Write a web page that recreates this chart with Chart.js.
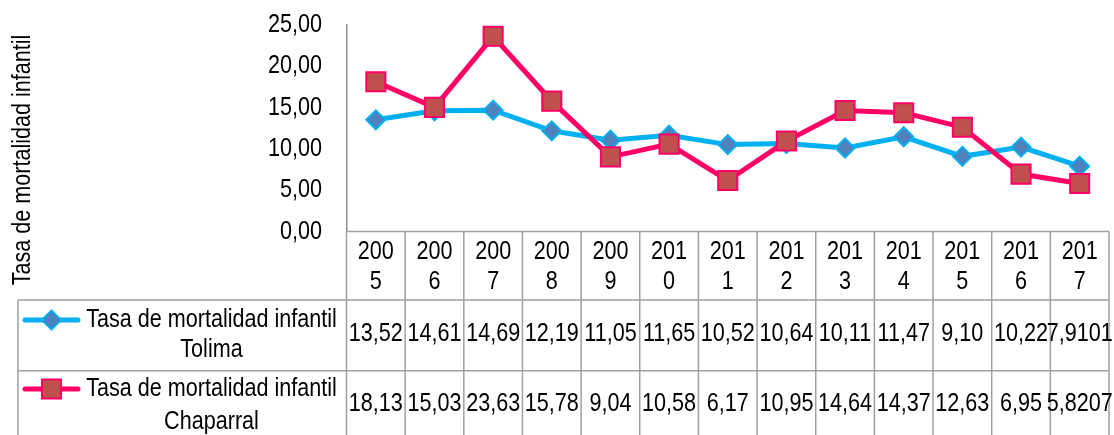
<!DOCTYPE html>
<html>
<head>
<meta charset="utf-8">
<script src="https://cdn.jsdelivr.net/npm/chart.js@4.4.1/dist/chart.umd.min.js"></script>
<style>
html,body{margin:0;padding:0;background:#fff;overflow:hidden;width:1114px;height:435px;}
#wrap{width:1114px;height:435px;position:absolute;left:0;top:0;}
canvas{display:block;}
</style>
</head>
<body>
<div id="wrap"><canvas id="c"></canvas></div>
<script>
// ---- data ----
const categories = ['2005','2006','2007','2008','2009','2010','2011','2012','2013','2014','2015','2016','2017'];
const tolima = [13.52, 14.61, 14.69, 12.19, 11.05, 11.65, 10.52, 10.64, 10.11, 11.47, 9.10, 10.22, 7.9101];
const chaparral = [18.13, 15.03, 23.63, 15.78, 9.04, 10.58, 6.17, 10.95, 14.64, 14.37, 12.63, 6.95, 5.8207];
const seriesNames = ['Tasa de mortalidad infantil Tolima', 'Tasa de mortalidad infantil Chaparral'];
const yTitle = 'Tasa de mortalidad infantil';
const yMin = 0, yMax = 25, yStep = 5;

// ---- style ----
const FONT = "'Liberation Sans',Arial,sans-serif";
const FS = 26;
const CONDENSE = 0.83; // Arial Narrow look
const GRID = '#a0a0a0';

function fmt(v) {
  const s = String(v);
  const dec = s.includes('.') ? s.split('.')[1].length : 0;
  return v.toFixed(Math.max(2, dec)).replace('.', ',');
}
function splitName(n) {
  const i = n.lastIndexOf(' ');
  return [n.slice(0, i), n.slice(i + 1)];
}

const styles = [
  {line: '#00B0F0', fill: '#4F81BD', point: 'rectRot', radius: 9.5},
  {line: '#FF0066', fill: '#C0504D', point: 'rect', radius: 13.5}
];

function drawMarker(ctx, st, x, y) {
  ctx.save();
  ctx.fillStyle = st.fill; ctx.strokeStyle = st.line; ctx.lineWidth = 2;
  ctx.beginPath();
  if (st.point === 'rect') {
    const s = st.radius * Math.SQRT1_2;
    ctx.rect(x - s, y - s, 2 * s, 2 * s);
  } else {
    const r = st.radius;
    ctx.moveTo(x - r, y); ctx.lineTo(x, y - r); ctx.lineTo(x + r, y); ctx.lineTo(x, y + r); ctx.closePath();
  }
  ctx.fill(); ctx.stroke();
  ctx.restore();
}

const tablePlugin = {
  id: 'dataTable',
  afterDraw(chart) {
    const ctx = chart.ctx;
    const xs = chart.scales.x;
    const area = chart.chartArea;
    const n = categories.length;
    const colW = (area.right - area.left) / n;
    const headTop = area.bottom, headBot = 300, row1Bot = 370.7, tableBot = 440, legLeft = 18;
    ctx.save();
    ctx.strokeStyle = GRID; ctx.lineWidth = 1.5;
    ctx.beginPath();
    ctx.moveTo(area.left, headTop); ctx.lineTo(area.right, headTop);
    ctx.moveTo(legLeft, headBot); ctx.lineTo(area.right, headBot);
    ctx.moveTo(legLeft, row1Bot); ctx.lineTo(area.right, row1Bot);
    for (let k = 0; k <= n; k++) {
      const x = area.left + k * colW;
      ctx.moveTo(x, headTop); ctx.lineTo(x, tableBot);
    }
    ctx.moveTo(legLeft, headBot); ctx.lineTo(legLeft, tableBot);
    ctx.stroke();

    // values
    ctx.fillStyle = '#000';
    ctx.font = FS + 'px ' + FONT;
    ctx.textAlign = 'center'; ctx.textBaseline = 'middle';
    const series = [tolima, chaparral];
    const rowY = [334, 404];
    series.forEach((arr, r) => {
      arr.forEach((v, i) => {
        ctx.fillText(fmt(v), xs.getPixelForValue(i), rowY[r]);
      });
    });

    // legend entries
    const lineY = [[320, 350], [389, 422]];
    seriesNames.forEach((name, r) => {
      const st = styles[r];
      const ky = lineY[r][0];
      ctx.save();
      ctx.strokeStyle = st.line; ctx.lineWidth = 5; ctx.lineCap = 'round';
      ctx.beginPath(); ctx.moveTo(25, ky); ctx.lineTo(78, ky); ctx.stroke();
      ctx.restore();
      drawMarker(ctx, st, 51.5, ky);
      const parts = splitName(name);
      ctx.fillStyle = '#000';
      ctx.fillText(parts[0], 211.5, lineY[r][0]);
      ctx.fillText(parts[1], 211.5, lineY[r][1]);
    });

    // y title
    ctx.save();
    ctx.translate(23, 160);
    ctx.rotate(-Math.PI / 2);
    ctx.fillText(yTitle, 0, 0);
    ctx.restore();
    ctx.restore();
  }
};

// condensed text rendering (narrow face not installed): scale glyphs horizontally around the anchor
const canvas = document.getElementById('c');
const c2d = canvas.getContext('2d');
const protoFill = CanvasRenderingContext2D.prototype.fillText;
c2d.fillText = function (t, x, y) {
  this.save();
  this.translate(x, y);
  this.scale(CONDENSE, 1);
  protoFill.call(this, t, 0, 0);
  this.restore();
};

const noPad = s => { s.paddingTop = 0; s.paddingBottom = 0; s.paddingLeft = 0; s.paddingRight = 0; };

new Chart(canvas, {
  type: 'line',
  data: {
    labels: categories.map(c => [c.slice(0, 3), c.slice(3)]),
    datasets: [
      {label: seriesNames[0], data: tolima, order: 2, borderColor: styles[0].line, borderWidth: 5,
       pointStyle: styles[0].point, pointRadius: styles[0].radius, pointHoverRadius: styles[0].radius,
       pointBackgroundColor: styles[0].fill, pointBorderColor: styles[0].line, pointBorderWidth: 2,
       tension: 0, fill: false},
      {label: seriesNames[1], data: chaparral, order: 1, borderColor: styles[1].line, borderWidth: 5,
       pointStyle: styles[1].point, pointRadius: styles[1].radius, pointHoverRadius: styles[1].radius,
       pointBackgroundColor: styles[1].fill, pointBorderColor: styles[1].line, pointBorderWidth: 2,
       tension: 0, fill: false}
    ]
  },
  options: {
    responsive: true, maintainAspectRatio: false, animation: false,
    layout: {autoPadding: false, padding: {left: 0, top: 25, right: 5, bottom: 0}},
    plugins: {legend: {display: false}, tooltip: {enabled: false}},
    scales: {
      x: {
        type: 'category', offset: true,
        grid: {display: false, drawTicks: false}, border: {display: false},
        ticks: {font: {family: FONT, size: FS, lineHeight: 1.154}, color: '#000', padding: 5,
                maxRotation: 0, minRotation: 0, autoSkip: false},
        afterFit: s => { s.height = 203.5; noPad(s); }
      },
      y: {
        min: yMin, max: yMax,
        grid: {display: false, drawTicks: false},
        border: {display: true, color: '#8c8c8c', width: 1.5},
        ticks: {stepSize: yStep, color: '#000', padding: 24.5, font: {family: FONT, size: FS},
                callback: v => fmt(v)},
        afterFit: s => { s.width = 346.5; noPad(s); }
      }
    }
  },
  plugins: [tablePlugin]
});
</script>
</body>
</html>
